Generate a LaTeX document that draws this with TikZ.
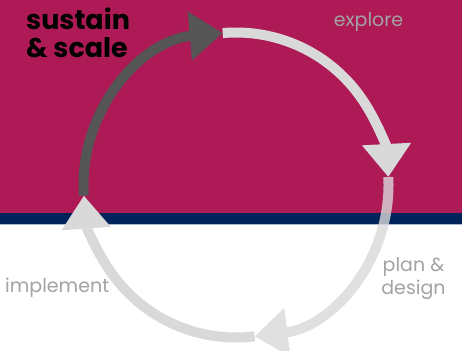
\documentclass[tikz,border=0pt]{standalone}
\usepackage{fontspec}
\setmainfont{Poppins}
\usetikzlibrary{arrows.meta}
\definecolor{mag}{HTML}{AD1A55}
\definecolor{navy}{HTML}{002459}
\definecolor{edgeblue}{HTML}{A7B6D3}
\definecolor{darkarc}{HTML}{555555}
\definecolor{lightarc}{HTML}{D9D9D9}
\definecolor{labelgrey}{HTML}{A3A3A3}
\begin{document}
\begin{tikzpicture}[x=1pt,y=1pt,
  cyc/.style={line width=10pt, -{Triangle[length=33pt,width=47pt]}},
  darkcyc/.style={cyc, draw=darkarc},
  lightcyc/.style={cyc, draw=lightarc},
  steplabel/.style={inner sep=0pt, text=labelgrey, font=\fontsize{19}{23}\selectfont},
  titlelabel/.style={inner sep=0pt, text=black, font=\bfseries\fontsize{27}{28}\selectfont}]
\useasboundingbox (0,0) rectangle (462,350);
\fill[white] (0,0) rectangle (462,350);
\fill[mag] (0,137) rectangle (462,350);
\fill[navy] (0,125) rectangle (462,137.3);
\draw[edgeblue, line width=0.8pt] (0,125.2) -- (462,125.2);

\coordinate (c) at (236,165);
\path (c) ++(184:152.5) coordinate (pL);
\path (c) ++(95:152.5) coordinate (pT);
\path (c) ++(3:152.5) coordinate (pR);
\path (c) ++(-83:152.5) coordinate (pB);

\draw[darkcyc] (pL) arc[start angle=184, end angle=95, radius=152.5];
\draw[lightcyc] (pT) arc[start angle=95, end angle=3, radius=152.5];
\draw[lightcyc] (pB) arc[start angle=-83, end angle=-176, radius=152.5];
\begin{scope}[transparency group, opacity=0.8]
\draw[lightcyc] (pR) arc[start angle=3, end angle=-83, radius=152.5];
\end{scope}

\node[titlelabel, anchor=base west, align=left] (sus) at (26,292) {sustain\\\& scale};
\node[steplabel, anchor=base] (exp) at (368.5,323) {explore};
\node[steplabel, anchor=base, align=center] (pla) at (413.5,55) {plan \&\\design};
\node[steplabel, anchor=base west] (imp) at (5,57) {implement};
\end{tikzpicture}
\end{document}
